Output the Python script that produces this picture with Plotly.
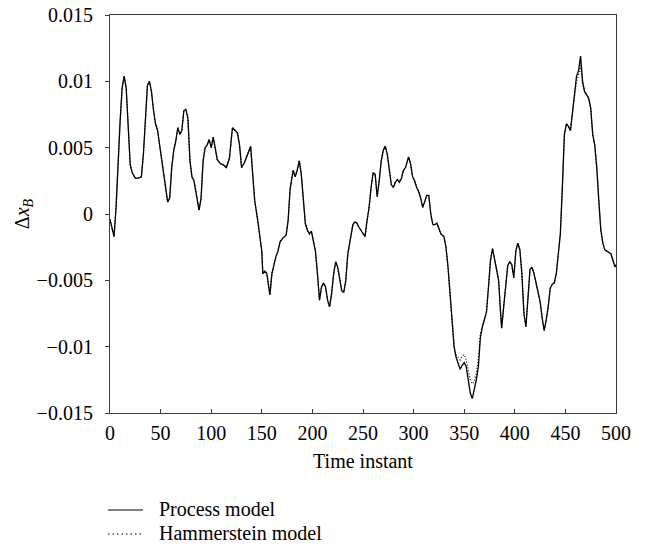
import plotly.graph_objects as go

time = [0, 2, 4, 6, 8, 10, 12, 14, 16, 18, 20, 22, 25, 28, 31, 33, 35, 37, 39, 41, 43, 45, 47, 49,
        52, 55, 57, 59, 61, 63, 65, 67, 69, 71, 73, 75, 77, 79, 81, 83, 85, 88, 90, 92, 94, 96, 98,
        100, 102, 104, 106, 109, 112, 115, 118, 121, 124, 126, 128, 130, 133, 136, 139, 141, 143,
        146, 148, 150, 151, 153, 155, 157, 158, 160, 162, 164, 166, 168, 171, 174, 176, 178, 181,
        183, 185, 187, 189, 191, 193, 195, 197, 199, 201, 203, 205, 207, 209, 211, 213, 215, 217,
        219, 221, 223, 225, 227, 229, 231, 233, 235, 237, 240, 242, 244, 246, 249, 252, 254, 256,
        258, 260, 262, 264, 266, 268, 270, 272, 274, 276, 278, 280, 282, 284, 286, 288, 290, 292,
        295, 297, 299, 301, 303, 305, 307, 309, 311, 313, 315, 317, 319, 321, 323, 325, 327, 330,
        332, 334, 336, 338, 340, 342, 344, 346, 348, 350, 352, 354, 356, 358, 360, 362, 364, 366,
        368, 370, 372, 374, 376, 378, 380, 382, 384, 386, 387, 389, 391, 393, 395, 397, 399, 401,
        403, 405, 407, 409, 411, 413, 415, 417, 419, 421, 423, 425, 427, 429, 431, 433, 435, 437,
        439, 441, 443, 445, 447, 449, 451, 453, 455, 457, 459, 461, 463, 465, 467, 469, 471, 473,
        475, 477, 479, 481, 483, 485, 487, 489, 491, 493, 495, 497, 499, 500]

process_model = [-0.0004, -0.0010, -0.0017, 0.0005, 0.0040, 0.0070, 0.0095, 0.0104, 0.0095, 0.0060,
                 0.0037, 0.0031, 0.0027, 0.0027, 0.0028, 0.0045, 0.0075, 0.0097, 0.0100, 0.0092,
                 0.0078, 0.0068, 0.0063, 0.0052, 0.0035, 0.0018, 0.0009, 0.0012, 0.0035, 0.0048,
                 0.0055, 0.0065, 0.0060, 0.0063, 0.0078, 0.0079, 0.0072, 0.0040, 0.0028, 0.0025,
                 0.0015, 0.0003, 0.0012, 0.0040, 0.0050, 0.0052, 0.0056, 0.0050, 0.0058, 0.0050,
                 0.0041, 0.0038, 0.0037, 0.0035, 0.0042, 0.0065, 0.0063, 0.0061, 0.0052, 0.0035,
                 0.0039, 0.0045, 0.0051, 0.0030, 0.0010, -0.0005, -0.0018, -0.0028, -0.0045, -0.0043,
                 -0.0045, -0.0058, -0.0061, -0.0045, -0.0038, -0.0032, -0.0028, -0.0021, -0.0018, -0.0016,
                 -0.0005, 0.0019, 0.0033, 0.0028, 0.0033, 0.0040, 0.0030, 0.0010, -0.0007, -0.0012,
                 -0.0015, -0.0013, -0.0020, -0.0028, -0.0045, -0.0065, -0.0055, -0.0052, -0.0055, -0.0065,
                 -0.0070, -0.0060, -0.0045, -0.0036, -0.0040, -0.0048, -0.0058, -0.0059, -0.0050, -0.0030,
                 -0.0022, -0.0008, -0.0006, -0.0007, -0.0010, -0.0014, -0.0017, -0.0005, 0.0005, 0.0020,
                 0.0031, 0.0030, 0.0013, 0.0025, 0.0040, 0.0048, 0.0051, 0.0045, 0.0033, 0.0022,
                 0.0020, 0.0024, 0.0026, 0.0024, 0.0027, 0.0033, 0.0035, 0.0043, 0.0038, 0.0028,
                 0.0025, 0.0020, 0.0017, 0.0012, 0.0005, 0.0010, 0.0014, 0.0014, 0.0000, -0.0008,
                 -0.0008, -0.0007, -0.0011, -0.0015, -0.0017, -0.0025, -0.0040, -0.0060, -0.0085, -0.0100,
                 -0.0108, -0.0112, -0.0117, -0.0114, -0.0112, -0.0115, -0.0125, -0.0135, -0.0139, -0.0133,
                 -0.0125, -0.0115, -0.0093, -0.0085, -0.0080, -0.0074, -0.0055, -0.0035, -0.0026, -0.0035,
                 -0.0044, -0.0050, -0.0075, -0.0086, -0.0070, -0.0055, -0.0039, -0.0036, -0.0038, -0.0048,
                 -0.0028, -0.0022, -0.0027, -0.0045, -0.0075, -0.0085, -0.0062, -0.0042, -0.0040, -0.0045,
                 -0.0052, -0.0058, -0.0066, -0.0078, -0.0088, -0.0080, -0.0070, -0.0056, -0.0053, -0.0052,
                 -0.0045, -0.0030, -0.0015, 0.0020, 0.0060, 0.0068, 0.0066, 0.0063, 0.0078, 0.0090,
                 0.0104, 0.0108, 0.0119, 0.0100, 0.0092, 0.0090, 0.0087, 0.0080, 0.0060, 0.0052,
                 0.0035, 0.0010, -0.0012, -0.0022, -0.0027, -0.0028, -0.0029, -0.0030, -0.0035, -0.0040,
                 -0.0038]

hammerstein_model = [-0.0004, -0.0010, -0.0017, 0.0005, 0.0040, 0.0070, 0.0095, 0.0104, 0.0095, 0.0060,
                     0.0037, 0.0031, 0.0027, 0.0027, 0.0028, 0.0045, 0.0075, 0.0097, 0.0100, 0.0092,
                     0.0078, 0.0068, 0.0063, 0.0052, 0.0035, 0.0018, 0.0009, 0.0012, 0.0035, 0.0048,
                     0.0055, 0.0065, 0.0060, 0.0063, 0.0078, 0.0079, 0.0072, 0.0040, 0.0028, 0.0025,
                     0.0015, 0.0003, 0.0012, 0.0040, 0.0050, 0.0052, 0.0056, 0.0050, 0.0058, 0.0050,
                     0.0041, 0.0038, 0.0037, 0.0035, 0.0042, 0.0065, 0.0063, 0.0061, 0.0052, 0.0035,
                     0.0039, 0.0045, 0.0051, 0.0030, 0.0010, -0.0005, -0.0018, -0.0028, -0.0045, -0.0043,
                     -0.0045, -0.0058, -0.0061, -0.0045, -0.0038, -0.0032, -0.0028, -0.0021, -0.0018, -0.0016,
                     -0.0005, 0.0019, 0.0033, 0.0028, 0.0033, 0.0040, 0.0030, 0.0010, -0.0007, -0.0012,
                     -0.0015, -0.0013, -0.0020, -0.0028, -0.0045, -0.0065, -0.0055, -0.0052, -0.0055, -0.0065,
                     -0.0070, -0.0060, -0.0045, -0.0036, -0.0040, -0.0048, -0.0058, -0.0059, -0.0050, -0.0030,
                     -0.0022, -0.0008, -0.0006, -0.0007, -0.0010, -0.0014, -0.0017, -0.0005, 0.0005, 0.0020,
                     0.0031, 0.0030, 0.0013, 0.0025, 0.0040, 0.0048, 0.0051, 0.0045, 0.0033, 0.0022,
                     0.0020, 0.0024, 0.0026, 0.0024, 0.0027, 0.0033, 0.0035, 0.0043, 0.0038, 0.0028,
                     0.0025, 0.0020, 0.0017, 0.0012, 0.0005, 0.0010, 0.0014, 0.0014, 0.0000, -0.0008,
                     -0.0008, -0.0007, -0.0011, -0.0015, -0.0017, -0.0025, -0.0040, -0.0060, -0.0085, -0.0100,
                     -0.0106, -0.0108, -0.0110, -0.0107, -0.0106, -0.0110, -0.0118, -0.0125, -0.0128, -0.0126,
                     -0.0120, -0.0110, -0.0090, -0.0085, -0.0080, -0.0074, -0.0055, -0.0035, -0.0026, -0.0035,
                     -0.0044, -0.0050, -0.0075, -0.0086, -0.0070, -0.0055, -0.0039, -0.0036, -0.0038, -0.0048,
                     -0.0028, -0.0022, -0.0027, -0.0045, -0.0075, -0.0085, -0.0062, -0.0042, -0.0040, -0.0045,
                     -0.0052, -0.0058, -0.0066, -0.0078, -0.0088, -0.0080, -0.0070, -0.0056, -0.0053, -0.0052,
                     -0.0045, -0.0030, -0.0015, 0.0020, 0.0060, 0.0068, 0.0066, 0.0063, 0.0078, 0.0088,
                     0.0100, 0.0105, 0.0112, 0.0098, 0.0092, 0.0090, 0.0087, 0.0080, 0.0060, 0.0052,
                     0.0035, 0.0010, -0.0012, -0.0022, -0.0027, -0.0028, -0.0029, -0.0030, -0.0035, -0.0040,
                     -0.0038]

x_ticks = [0, 50, 100, 150, 200, 250, 300, 350, 400, 450, 500]
y_ticks = [-0.015, -0.01, -0.005, 0, 0.005, 0.01, 0.015]
y_tick_labels = ["\u22120.015", "\u22120.01", "\u22120.005", "0", "0.005", "0.01", "0.015"]
legend_names = ["Process model", "Hammerstein model"]

FONT = "Liberation Serif"
AXIS_COLOR = "#3a3a3a"

fig = go.Figure()
fig.add_trace(go.Scatter(x=time, y=process_model, mode="lines", name=legend_names[0],
                         line=dict(color="black", width=1.3), showlegend=False))
fig.add_trace(go.Scatter(x=time, y=hammerstein_model, mode="lines", name=legend_names[1],
                         line=dict(color="black", width=1.2, dash="1px,2px"), showlegend=False))

# manual legend (below the plot)
L, R, T, B = 110, 616, 15, 413
W, H = R - L, B - T

def px(x):
    return (x - L) / W

def py(y):
    return (B - y) / H

legend_rows = [(510, "solid"), (534, "1.5px,3px")]
for (row_y, dash), name in zip(legend_rows, legend_names):
    fig.add_shape(type="line", xref="paper", yref="paper",
                  x0=px(108), x1=px(143), y0=py(row_y), y1=py(row_y),
                  line=dict(color="black", width=1.2, dash=dash))
    fig.add_annotation(xref="paper", yref="paper", x=px(157), y=py(row_y - 1),
                       xanchor="left", yanchor="middle", showarrow=False,
                       text=name, font=dict(family=FONT, size=20, color="black"))

fig.update_layout(
    width=645, height=548,
    margin=dict(l=L, r=645 - R, t=T, b=548 - B, autoexpand=False),
    paper_bgcolor="white", plot_bgcolor="white",
    font=dict(family=FONT, size=20, color="black"),
    showlegend=False,
)
fig.update_xaxes(range=[0, 500], tickvals=x_ticks, ticks="inside", ticklen=4, tickwidth=1,
                 tickcolor=AXIS_COLOR, showline=True, linecolor=AXIS_COLOR, linewidth=1.2,
                 mirror=True, showgrid=False, zeroline=False, ticklabelstandoff=2,
                 title=dict(text="Time instant", standoff=10, font=dict(size=20)))
fig.update_yaxes(range=[-0.015, 0.015], tickvals=y_ticks, ticktext=y_tick_labels,
                 ticks="outside", ticklen=4, tickwidth=1, tickcolor=AXIS_COLOR,
                 showline=True, linecolor=AXIS_COLOR, linewidth=1.2, mirror=True,
                 showgrid=False, zeroline=False, ticklabelstandoff=8,
                 title=dict(text="\u0394<i>x</i><sub><i>B</i></sub>", standoff=1, font=dict(size=20)))

fig.write_html("out.html")
